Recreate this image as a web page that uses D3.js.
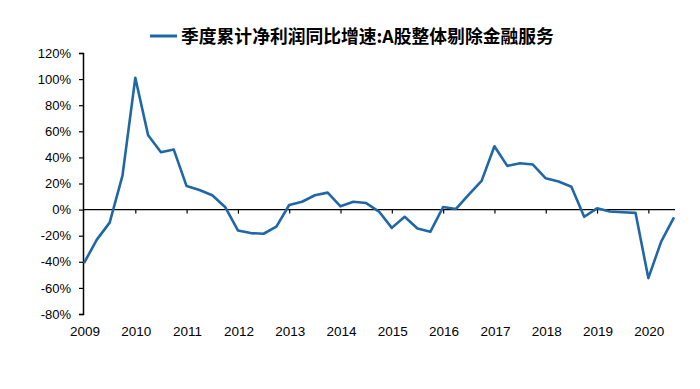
<!DOCTYPE html>
<html>
<head>
<meta charset="utf-8">
<script src="https://cdn.jsdelivr.net/npm/d3@7/dist/d3.min.js"></script>
<style>
  body { margin: 0; background: #fff; }
  svg text { font-family: "Liberation Sans", Arial, sans-serif; fill: #000; }
</style>
</head>
<body>
<svg id="chart" width="700" height="389"></svg>
<script>
// quarterly cumulative net profit yoy growth, 2009Q1 .. 2020Q3 (%)
const quarters = [];
for (let y = 2009; y <= 2020; y++) {
    for (let q = 1; q <= 4; q++) {
        if (y === 2020 && q > 3) break;
        quarters.push(y + "Q" + q);
    }
}
const growth = [
    -41, -23, -10, 26,
    101, 57, 44, 46,
    18, 15, 11, 2,
    -16, -18, -18.5, -13,
    3.5, 6, 11, 13,
    2.5, 6, 5, -1.5,
    -14, -5.5, -14.5, -17,
    2, 0.5, 11.5, 22,
    48.5, 33.5, 35.5, 34.5,
    24, 21.5, 17.5, -5.5,
    1, -1.5, -2, -2.5,
    -52.5, -24.5, -6
];
const years = ["2009", "2010", "2011", "2012", "2013", "2014", "2015", "2016", "2017", "2018", "2019", "2020"];
const yTicks = [-80, -60, -40, -20, 0, 20, 40, 60, 80, 100, 120];
const seriesName = "季度累计净利润同比增速:A股整体剔除金融服务";

const svg = d3.select("#chart");
const color = "#1f67a6";

const x = d3.scalePoint().domain(quarters).range([84, 674]);
const y = d3.scaleLinear().domain([-80, 120]).range([314, 53]);

// y axis
const yAxis = svg.append("g")
    .attr("transform", "translate(83,0)")
    .call(d3.axisLeft(y).tickValues(yTicks).tickSize(4).tickPadding(8).tickFormat(d => d + "%"));
yAxis.select(".domain").attr("stroke", "#000").attr("stroke-width", 1.5);
yAxis.selectAll(".tick line").attr("stroke", "#000").attr("stroke-width", 1.2);
yAxis.selectAll(".tick text").attr("font-size", 13).attr("font-family", "Liberation Sans, Arial, sans-serif");

// zero line with year ticks
const xAxis = svg.append("g")
    .attr("transform", `translate(0,${y(0)})`)
    .call(d3.axisBottom(x).tickValues(years.slice(1).map(d => d + "Q1")).tickSize(4).tickFormat(""));
xAxis.select(".domain").attr("stroke", "#000").attr("stroke-width", 1.2)
    .attr("d", `M83,0H675`);
xAxis.selectAll(".tick line").attr("stroke", "#000").attr("stroke-width", 1.2);

// year labels along the bottom
svg.append("g").selectAll("text")
    .data(years)
    .enter().append("text")
    .attr("x", d => x(d + "Q1") + 1)
    .attr("y", 336)
    .attr("text-anchor", "middle")
    .attr("font-size", 13.5)
    .text(d => d);

// series line
const line = d3.line()
    .x((d, i) => x(quarters[i]))
    .y(d => y(d));

svg.append("path")
    .datum(growth)
    .attr("fill", "none")
    .attr("stroke", color)
    .attr("stroke-width", 2.6)
    .attr("stroke-linejoin", "round")
    .attr("d", line);

// legend
svg.append("line")
    .attr("x1", 150).attr("x2", 177)
    .attr("y1", 36).attr("y2", 36)
    .attr("stroke", color)
    .attr("stroke-width", 3);
svg.append("text")
    .attr("x", 181)
    .attr("y", 43)
    .attr("font-size", 17.8)
    .attr("font-weight", "bold")
    .style("font-family", "'Noto Sans CJK SC', sans-serif")
    .text(seriesName);
</script>
</body>
</html>
